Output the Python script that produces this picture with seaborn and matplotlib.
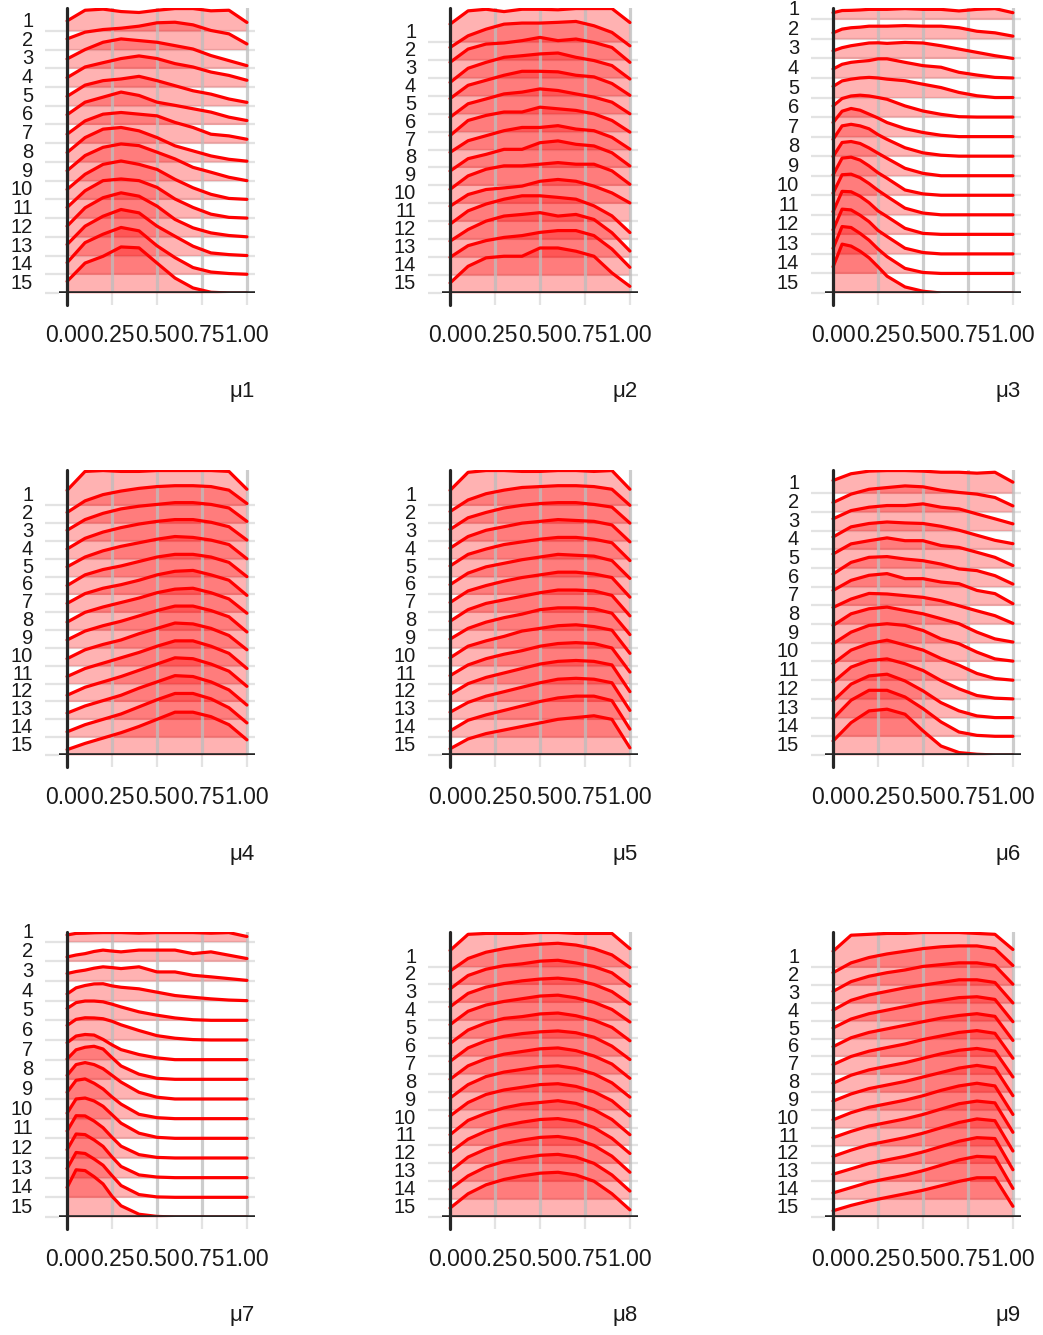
import matplotlib
matplotlib.use("Agg")
import matplotlib.pyplot as plt
import numpy as np
import pandas as pd
import seaborn as sns

# ---------------- data (ridge heights, in row-spacing units) -------------
x_grid = [0.0, 0.1, 0.2, 0.3, 0.4, 0.5, 0.6, 0.7, 0.8, 0.9, 1.0]
x_grid_fine = [0.0, 0.05, 0.1, 0.15, 0.2, 0.25, 0.3, 0.4, 0.5, 0.6, 0.7, 0.8, 0.9, 1.0]
groups = [str(i) for i in range(1, 16)]
x_ticks = [0.0, 0.25, 0.5, 0.75, 1.0]
x_tick_labels = ["0.00", "0.25", "0.50", "0.75", "1.00"]
panel_labels = ["\u03bc1", "\u03bc2", "\u03bc3", "\u03bc4", "\u03bc5", "\u03bc6", "\u03bc7", "\u03bc8", "\u03bc9"]

mu1 = [
    [0.53, 1.10, 1.16, 1.03, 0.98, 1.10, 1.19, 1.19, 1.07, 1.10, 0.45],
    [0.57, 0.93, 1.07, 1.14, 1.25, 1.43, 1.46, 1.32, 1.02, 0.84, 0.30],
    [0.50, 1.00, 1.39, 1.57, 1.48, 1.39, 1.21, 1.03, 0.68, 0.41, 0.14],
    [0.50, 1.07, 1.30, 1.52, 1.66, 1.52, 1.25, 1.07, 0.80, 0.62, 0.36],
    [0.50, 1.10, 1.34, 1.43, 1.57, 1.34, 1.07, 0.80, 0.62, 0.36, 0.18],
    [0.52, 1.19, 1.46, 1.73, 1.55, 1.19, 1.02, 0.84, 0.66, 0.39, 0.21],
    [0.48, 1.19, 1.55, 1.64, 1.55, 1.46, 1.11, 0.84, 0.48, 0.39, 0.21],
    [0.50, 1.30, 1.75, 1.84, 1.66, 1.30, 0.86, 0.59, 0.32, 0.14, 0.04],
    [0.53, 1.34, 1.78, 1.96, 1.87, 1.52, 1.16, 0.71, 0.45, 0.18, 0.00],
    [0.53, 1.34, 1.87, 2.05, 1.87, 1.60, 1.07, 0.62, 0.27, 0.05, 0.00],
    [0.57, 1.46, 2.00, 2.09, 2.00, 1.64, 1.02, 0.57, 0.21, 0.04, 0.00],
    [0.57, 1.55, 2.09, 2.35, 2.17, 1.64, 0.93, 0.48, 0.21, 0.07, 0.00],
    [0.59, 1.57, 2.10, 2.46, 2.28, 1.57, 1.03, 0.50, 0.14, 0.05, 0.00],
    [0.62, 1.69, 2.14, 2.50, 2.32, 1.52, 0.89, 0.36, 0.12, 0.04, 0.00],
    [0.62, 1.60, 1.96, 2.46, 2.41, 1.60, 0.80, 0.27, 0.04, 0.00, 0.00],
]
mu2 = [
    [0.99, 1.73, 1.82, 1.69, 1.82, 1.82, 1.79, 1.86, 1.86, 1.86, 1.08],
    [0.69, 1.34, 1.71, 1.99, 2.05, 2.05, 2.09, 2.14, 1.90, 1.53, 0.78],
    [0.86, 1.60, 1.88, 1.94, 2.07, 2.25, 2.07, 2.16, 1.97, 1.69, 0.86],
    [0.74, 1.53, 1.86, 2.14, 2.23, 2.33, 2.38, 2.14, 1.96, 1.68, 0.93],
    [0.84, 1.58, 1.86, 2.14, 2.36, 2.36, 2.33, 2.14, 2.05, 1.68, 1.02],
    [0.80, 1.55, 1.82, 2.10, 2.20, 2.38, 2.29, 2.10, 1.92, 1.64, 0.99],
    [0.78, 1.62, 1.90, 2.09, 2.09, 2.36, 2.27, 2.18, 1.99, 1.62, 0.97],
    [0.84, 1.49, 1.77, 2.05, 2.23, 2.23, 2.33, 2.14, 2.05, 1.68, 1.02],
    [0.80, 1.49, 1.73, 2.01, 2.01, 2.38, 2.48, 2.29, 2.20, 1.82, 1.08],
    [0.78, 1.53, 1.90, 2.09, 2.09, 2.18, 2.27, 2.18, 2.18, 1.81, 1.06],
    [0.84, 1.49, 1.77, 1.86, 1.96, 2.23, 2.33, 2.23, 1.96, 1.58, 1.02],
    [0.84, 1.58, 1.96, 2.23, 2.42, 2.42, 2.33, 2.23, 1.86, 1.30, 0.37],
    [0.89, 1.54, 2.01, 2.29, 2.38, 2.48, 2.29, 2.38, 2.10, 1.36, 0.34],
    [0.99, 1.64, 1.92, 2.10, 2.20, 2.38, 2.48, 2.48, 2.20, 1.45, 0.43],
    [0.56, 1.49, 1.96, 2.05, 2.05, 2.51, 2.51, 2.33, 2.05, 1.12, 0.37],
]
mu3 = [
    [0.34, 0.45, 0.46, 0.48, 0.51, 0.51, 0.51, 0.55, 0.51, 0.51, 0.43, 0.51, 0.55, 0.34],
    [0.31, 0.50, 0.57, 0.60, 0.65, 0.65, 0.65, 0.68, 0.65, 0.65, 0.57, 0.39, 0.31, 0.14],
    [0.39, 0.55, 0.65, 0.72, 0.79, 0.80, 0.77, 0.82, 0.79, 0.65, 0.48, 0.31, 0.14, 0.00],
    [0.46, 0.70, 0.80, 0.85, 0.89, 0.98, 0.98, 0.80, 0.63, 0.55, 0.29, 0.15, 0.03, 0.00],
    [0.57, 0.85, 0.94, 1.00, 1.03, 1.00, 0.94, 0.86, 0.68, 0.51, 0.26, 0.09, 0.00, 0.00],
    [0.57, 0.95, 1.08, 1.12, 1.08, 1.00, 0.91, 0.57, 0.31, 0.14, 0.02, 0.00, 0.00, 0.00],
    [0.72, 1.30, 1.44, 1.35, 1.15, 0.95, 0.72, 0.41, 0.21, 0.07, 0.00, 0.00, 0.00, 0.00],
    [0.86, 1.55, 1.63, 1.55, 1.40, 1.10, 0.86, 0.43, 0.17, 0.05, 0.00, 0.00, 0.00, 0.00],
    [0.98, 1.70, 1.75, 1.65, 1.42, 1.15, 0.89, 0.38, 0.12, 0.00, 0.00, 0.00, 0.00, 0.00],
    [1.04, 1.90, 1.95, 1.80, 1.50, 1.15, 0.87, 0.27, 0.07, 0.00, 0.00, 0.00, 0.00, 0.00],
    [1.11, 2.05, 2.08, 1.90, 1.60, 1.25, 0.94, 0.34, 0.09, 0.00, 0.00, 0.00, 0.00, 0.00],
    [1.16, 2.20, 2.18, 1.95, 1.62, 1.20, 0.91, 0.31, 0.05, 0.00, 0.00, 0.00, 0.00, 0.00],
    [1.23, 2.29, 2.25, 1.98, 1.65, 1.20, 0.89, 0.29, 0.07, 0.00, 0.00, 0.00, 0.00, 0.00],
    [1.28, 2.40, 2.35, 2.05, 1.70, 1.25, 0.86, 0.26, 0.05, 0.00, 0.00, 0.00, 0.00, 0.00],
    [1.34, 2.50, 2.40, 2.14, 1.80, 1.34, 0.86, 0.31, 0.09, 0.00, 0.00, 0.00, 0.00, 0.00],
]
mu4 = [
    [0.84, 1.90, 1.95, 1.90, 1.90, 1.95, 1.95, 1.95, 1.95, 1.90, 0.90],
    [0.60, 1.25, 1.60, 1.80, 1.95, 2.05, 2.10, 2.10, 2.05, 1.85, 1.10],
    [0.60, 1.20, 1.55, 1.80, 1.95, 2.05, 2.15, 2.15, 2.05, 1.85, 1.10],
    [0.55, 1.15, 1.50, 1.75, 1.95, 2.10, 2.20, 2.20, 2.05, 1.80, 1.05],
    [0.55, 1.10, 1.45, 1.70, 1.90, 2.10, 2.25, 2.20, 2.05, 1.80, 1.00],
    [0.50, 1.10, 1.40, 1.60, 1.85, 2.10, 2.25, 2.25, 2.10, 1.80, 1.00],
    [0.50, 1.05, 1.35, 1.55, 1.80, 2.10, 2.30, 2.35, 2.10, 1.80, 0.95],
    [0.45, 1.00, 1.30, 1.55, 1.80, 2.10, 2.30, 2.35, 2.10, 1.75, 0.95],
    [0.45, 0.95, 1.25, 1.50, 1.80, 2.10, 2.35, 2.35, 2.10, 1.75, 0.90],
    [0.40, 0.90, 1.20, 1.45, 1.80, 2.10, 2.40, 2.35, 2.10, 1.70, 0.90],
    [0.40, 0.85, 1.15, 1.45, 1.75, 2.10, 2.40, 2.40, 2.10, 1.70, 0.85],
    [0.35, 0.80, 1.10, 1.40, 1.75, 2.10, 2.45, 2.40, 2.10, 1.70, 0.85],
    [0.35, 0.75, 1.05, 1.35, 1.75, 2.10, 2.45, 2.40, 2.10, 1.65, 0.80],
    [0.30, 0.70, 1.00, 1.30, 1.70, 2.10, 2.45, 2.45, 2.15, 1.65, 0.80],
    [0.30, 0.65, 0.95, 1.25, 1.60, 2.00, 2.40, 2.40, 2.15, 1.70, 0.85],
]
mu5 = [
    [0.84, 1.85, 1.95, 1.95, 1.90, 1.90, 1.95, 1.95, 1.90, 1.95, 0.90],
    [0.65, 1.30, 1.65, 1.85, 2.00, 2.05, 2.10, 2.10, 2.05, 1.90, 1.00],
    [0.65, 1.30, 1.60, 1.85, 2.00, 2.10, 2.15, 2.15, 2.05, 1.90, 1.00],
    [0.60, 1.25, 1.60, 1.80, 2.00, 2.10, 2.20, 2.15, 2.10, 1.90, 0.95],
    [0.60, 1.25, 1.55, 1.80, 1.95, 2.10, 2.20, 2.20, 2.10, 1.90, 0.90],
    [0.55, 1.20, 1.55, 1.75, 1.95, 2.10, 2.25, 2.20, 2.15, 1.90, 0.90],
    [0.55, 1.20, 1.50, 1.75, 1.95, 2.10, 2.25, 2.25, 2.15, 1.95, 0.85],
    [0.50, 1.15, 1.50, 1.70, 1.90, 2.10, 2.25, 2.25, 2.20, 1.95, 0.80],
    [0.50, 1.10, 1.45, 1.70, 1.90, 2.15, 2.25, 2.25, 2.20, 1.95, 0.75],
    [0.45, 1.10, 1.40, 1.65, 1.95, 2.10, 2.25, 2.30, 2.20, 2.00, 0.70],
    [0.45, 1.05, 1.40, 1.65, 1.85, 2.10, 2.25, 2.30, 2.25, 2.00, 0.65],
    [0.40, 1.00, 1.35, 1.60, 1.85, 2.10, 2.25, 2.30, 2.25, 2.05, 0.55],
    [0.40, 0.95, 1.30, 1.55, 1.80, 2.05, 2.25, 2.30, 2.25, 2.05, 0.50],
    [0.35, 0.95, 1.25, 1.50, 1.75, 2.00, 2.20, 2.30, 2.30, 2.05, 0.45],
    [0.35, 0.90, 1.20, 1.40, 1.60, 1.80, 2.00, 2.10, 2.20, 2.00, 0.40],
]
mu6 = [
    [0.68, 1.04, 1.18, 1.21, 1.21, 1.18, 1.12, 1.12, 1.07, 1.12, 0.59],
    [0.50, 0.95, 1.21, 1.30, 1.39, 1.34, 1.16, 1.04, 0.95, 0.77, 0.32],
    [0.63, 1.07, 1.25, 1.34, 1.34, 1.43, 1.25, 1.16, 0.89, 0.63, 0.36],
    [0.66, 1.20, 1.38, 1.46, 1.41, 1.38, 1.23, 1.02, 0.75, 0.48, 0.30],
    [0.75, 1.29, 1.46, 1.61, 1.46, 1.46, 1.20, 1.10, 0.84, 0.57, 0.13],
    [0.68, 1.30, 1.57, 1.61, 1.48, 1.39, 1.21, 0.95, 0.86, 0.59, 0.14],
    [0.80, 1.34, 1.61, 1.70, 1.43, 1.43, 1.25, 1.16, 0.80, 0.63, 0.09],
    [0.89, 1.34, 1.64, 1.61, 1.52, 1.43, 1.25, 0.98, 0.71, 0.45, 0.04],
    [0.93, 1.55, 1.82, 1.91, 1.73, 1.55, 1.29, 1.02, 0.57, 0.21, 0.04],
    [0.95, 1.57, 1.93, 2.02, 1.93, 1.66, 1.21, 0.95, 0.50, 0.14, 0.02],
    [0.89, 1.61, 1.96, 2.14, 1.88, 1.61, 1.16, 0.80, 0.36, 0.09, 0.00],
    [0.89, 1.70, 2.05, 2.14, 1.88, 1.52, 0.98, 0.54, 0.18, 0.04, 0.00],
    [0.89, 1.79, 2.23, 2.32, 1.96, 1.43, 0.80, 0.36, 0.09, 0.00, 0.00],
    [0.95, 1.93, 2.46, 2.46, 2.10, 1.48, 0.77, 0.23, 0.05, 0.00, 0.00],
    [0.75, 1.73, 2.36, 2.45, 2.18, 1.29, 0.48, 0.13, 0.04, 0.00, 0.00],
]
mu7 = [
    [0.34, 0.42, 0.43, 0.45, 0.46, 0.46, 0.46, 0.43, 0.46, 0.46, 0.46, 0.43, 0.46, 0.26],
    [0.22, 0.32, 0.39, 0.50, 0.57, 0.52, 0.48, 0.57, 0.57, 0.57, 0.39, 0.48, 0.31, 0.14],
    [0.38, 0.48, 0.55, 0.65, 0.72, 0.68, 0.63, 0.72, 0.46, 0.46, 0.29, 0.21, 0.12, 0.03],
    [0.34, 0.65, 0.77, 0.85, 0.86, 0.75, 0.68, 0.60, 0.43, 0.26, 0.17, 0.09, 0.03, 0.00],
    [0.60, 0.90, 0.98, 0.98, 0.94, 0.82, 0.68, 0.43, 0.26, 0.12, 0.03, 0.00, 0.00, 0.00],
    [0.74, 1.05, 1.13, 1.12, 1.08, 0.95, 0.77, 0.48, 0.22, 0.09, 0.02, 0.00, 0.00, 0.00],
    [0.86, 1.20, 1.28, 1.25, 1.03, 0.75, 0.51, 0.26, 0.09, 0.00, 0.00, 0.00, 0.00, 0.00],
    [1.03, 1.50, 1.63, 1.68, 1.54, 1.10, 0.68, 0.26, 0.05, 0.00, 0.00, 0.00, 0.00, 0.00],
    [1.20, 1.75, 1.85, 1.75, 1.54, 1.20, 0.86, 0.34, 0.09, 0.00, 0.00, 0.00, 0.00, 0.00],
    [1.34, 1.95, 2.02, 1.80, 1.51, 1.10, 0.74, 0.22, 0.05, 0.00, 0.00, 0.00, 0.00, 0.00],
    [1.28, 2.00, 2.05, 1.90, 1.63, 1.20, 0.77, 0.26, 0.05, 0.00, 0.00, 0.00, 0.00, 0.00],
    [1.37, 2.15, 2.14, 1.88, 1.54, 1.05, 0.60, 0.17, 0.03, 0.00, 0.00, 0.00, 0.00, 0.00],
    [1.42, 2.22, 2.19, 1.92, 1.59, 1.05, 0.57, 0.14, 0.03, 0.00, 0.00, 0.00, 0.00, 0.00],
    [1.46, 2.28, 2.23, 1.95, 1.63, 1.10, 0.60, 0.14, 0.02, 0.00, 0.00, 0.00, 0.00, 0.00],
    [1.50, 2.40, 2.36, 2.05, 1.68, 1.05, 0.57, 0.14, 0.03, 0.00, 0.00, 0.00, 0.00, 0.00],
]
mu8 = [
    [0.90, 1.80, 1.85, 1.85, 1.85, 1.90, 1.90, 1.85, 1.85, 1.85, 1.00],
    [0.75, 1.45, 1.80, 2.00, 2.15, 2.25, 2.30, 2.20, 2.00, 1.65, 0.95],
    [0.75, 1.50, 1.85, 2.05, 2.15, 2.30, 2.35, 2.20, 2.00, 1.65, 0.90],
    [0.75, 1.50, 1.85, 2.05, 2.20, 2.30, 2.35, 2.25, 2.00, 1.60, 0.90],
    [0.75, 1.50, 1.85, 2.05, 2.20, 2.35, 2.40, 2.25, 2.00, 1.60, 0.90],
    [0.70, 1.45, 1.85, 2.10, 2.20, 2.35, 2.40, 2.25, 2.00, 1.60, 0.85],
    [0.70, 1.45, 1.85, 2.10, 2.25, 2.35, 2.40, 2.30, 2.05, 1.55, 0.80],
    [0.70, 1.45, 1.85, 2.10, 2.25, 2.40, 2.45, 2.30, 2.00, 1.55, 0.75],
    [0.65, 1.40, 1.85, 2.10, 2.25, 2.40, 2.45, 2.30, 2.00, 1.50, 0.70],
    [0.65, 1.40, 1.85, 2.10, 2.25, 2.40, 2.45, 2.30, 2.00, 1.50, 0.65],
    [0.60, 1.40, 1.80, 2.10, 2.30, 2.40, 2.50, 2.35, 2.00, 1.45, 0.60],
    [0.60, 1.35, 1.80, 2.10, 2.30, 2.45, 2.50, 2.35, 2.00, 1.40, 0.55],
    [0.55, 1.35, 1.80, 2.10, 2.30, 2.45, 2.50, 2.35, 2.00, 1.40, 0.50],
    [0.55, 1.30, 1.80, 2.10, 2.30, 2.45, 2.50, 2.35, 2.00, 1.35, 0.45],
    [0.50, 1.30, 1.80, 2.10, 2.30, 2.45, 2.50, 2.35, 2.00, 1.30, 0.40],
]
mu9 = [
    [0.90, 1.80, 1.85, 1.90, 1.90, 1.95, 1.95, 1.95, 1.90, 1.85, 1.00],
    [0.70, 1.25, 1.55, 1.75, 1.90, 2.05, 2.15, 2.20, 2.20, 2.05, 1.10],
    [0.65, 1.20, 1.50, 1.70, 1.85, 2.05, 2.15, 2.25, 2.25, 2.10, 1.05],
    [0.60, 1.15, 1.45, 1.65, 1.85, 2.00, 2.15, 2.30, 2.30, 2.15, 1.00],
    [0.60, 1.10, 1.40, 1.60, 1.80, 2.00, 2.15, 2.30, 2.35, 2.20, 0.95],
    [0.55, 1.05, 1.35, 1.55, 1.75, 1.95, 2.15, 2.30, 2.40, 2.25, 0.90],
    [0.55, 1.00, 1.30, 1.50, 1.70, 1.95, 2.15, 2.35, 2.45, 2.30, 0.90],
    [0.50, 0.95, 1.25, 1.45, 1.65, 1.90, 2.15, 2.35, 2.45, 2.30, 0.85],
    [0.50, 0.90, 1.20, 1.40, 1.60, 1.85, 2.10, 2.35, 2.50, 2.35, 0.80],
    [0.45, 0.85, 1.15, 1.35, 1.55, 1.80, 2.10, 2.35, 2.50, 2.35, 0.75],
    [0.45, 0.80, 1.10, 1.30, 1.50, 1.75, 2.05, 2.35, 2.50, 2.40, 0.75],
    [0.40, 0.75, 1.05, 1.25, 1.45, 1.70, 2.00, 2.30, 2.50, 2.40, 0.70],
    [0.40, 0.70, 1.00, 1.20, 1.40, 1.65, 1.95, 2.25, 2.45, 2.40, 0.65],
    [0.35, 0.65, 0.95, 1.15, 1.35, 1.60, 1.90, 2.20, 2.40, 2.35, 0.60],
    [0.35, 0.65, 0.90, 1.10, 1.30, 1.50, 1.75, 2.00, 2.20, 2.20, 0.60],
]
panel_values = [mu1, mu2, mu3, mu4, mu5, mu6, mu7, mu8, mu9]
panel_x = [x_grid, x_grid, x_grid_fine, x_grid, x_grid, x_grid, x_grid_fine, x_grid, x_grid]

# ---------------- style ----------------
sns.set_theme(style="white")
plt.rcParams["font.family"] = ["Liberation Sans", "DejaVu Sans"]

W, H = 1043, 1335
fig = plt.figure(figsize=(W / 100, H / 100), dpi=100)
fig.patch.set_facecolor("white")

RED = "#FF0000"
n = len(groups)
w_px, h_px = 196, 285

for p, (vals, xs, lab) in enumerate(zip(panel_values, panel_x, panel_labels)):
    r, c = divmod(p, 3)
    left_px = 59 + 383 * c
    top_px = 8 + 462 * r
    ax = fig.add_axes([left_px / W, 1 - (top_px + h_px) / H, w_px / W, h_px / H])
    ax.set_facecolor("white")

    rows = []
    for i, g in enumerate(groups):
        base = n - 1 - i
        for xv, hv in zip(xs, vals[i]):
            rows.append({"ridge": i, "group": g, "x": xv, "base": base, "y": base + hv})
    df = pd.DataFrame(rows)

    # fills, top ridge first
    for i in range(n):
        d = df[df["ridge"] == i]
        ax.fill_between(d["x"], d["base"], d["y"], color=RED, alpha=0.3, lw=0, zorder=1)

    sns.lineplot(data=df, x="x", y="y", units="ridge", estimator=None, color=RED,
                 lw=2.3, ax=ax, zorder=4, sort=False, legend=False)

    # horizontal light grid at the baselines
    for i in range(n):
        ax.axhline(n - 1 - i, color="#E3E3E3", lw=1.6, zorder=0.5)
    # vertical grid
    for xv in x_ticks[1:]:
        ax.axvline(xv, color="#BDBDBD", lw=2.3, alpha=0.75, zorder=3)
    # dark axis lines
    ax.axvline(0, ymin=-0.042, ymax=1, color="#262626", lw=2.3, zorder=5, clip_on=False)
    ax.axhline(0, color="#262626", lw=2.6, zorder=5)

    top = max((n - 1 - i) + max(vals[i]) for i in range(n))
    ax.set_xlim(-0.045, 1.045)
    ax.set_ylim(0, top + 0.03)

    ax.set_yticks([n - 1 - i for i in range(n)])
    ax.set_yticklabels(groups, fontsize=14.5)
    for t in ax.get_yticklabels():
        t.set_va("bottom")
    ax.set_xticks(x_ticks)
    ax.set_xticklabels(x_tick_labels, fontsize=16.5)
    ax.tick_params(axis="y", direction="out", length=10, width=1.6, color="#E3E3E3",
                   pad=8.6, labelcolor="#1a1a1a", left=True)
    ax.tick_params(axis="x", direction="out", length=8.6, width=1.6, color="#E3E3E3",
                   pad=14, labelcolor="#1a1a1a", bottom=True)
    for s in ax.spines.values():
        s.set_visible(False)

    ax.set_ylabel("")
    ax.set_xlabel(lab, fontsize=16, color="#1a1a1a")
    ax.xaxis.label.set_ha("right")
    ax.xaxis.label.set_va("center")
    ax.xaxis.set_label_coords((255 - 59) / w_px, -99 / h_px)

fig.savefig("out.png", dpi=100, facecolor="white")
